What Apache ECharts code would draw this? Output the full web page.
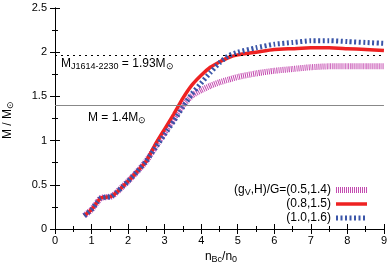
<!DOCTYPE html>
<html><head><meta charset="utf-8">
<script src="https://cdn.jsdelivr.net/npm/echarts@6/dist/echarts.min.js"></script>
<style>html,body{margin:0;padding:0;background:#fff}#c{width:390px;height:270px}</style>
</head><body><div id="c"></div>
<script>
const xVals = [0.8,1.0,1.15,1.25,1.4,1.55,1.7,1.85,2.0,2.25,2.5,2.75,3.0,3.25,3.5,3.75,4.0,4.25,4.5,4.75,5.0,5.5,6.0,6.5,7.0,7.5,8.0,8.5,9.0];
const pinkVals = [0.15,0.22,0.30,0.35,0.36,0.37,0.42,0.48,0.54,0.65,0.77,0.93,1.09,1.25,1.40,1.51,1.57,1.62,1.66,1.69,1.72,1.76,1.79,1.81,1.83,1.84,1.84,1.84,1.84];
const redVals  = [0.15,0.22,0.30,0.35,0.36,0.37,0.42,0.48,0.54,0.65,0.77,0.96,1.13,1.30,1.48,1.63,1.74,1.83,1.89,1.94,1.97,2.00,2.03,2.04,2.05,2.05,2.04,2.03,2.02];
const blueVals = [0.15,0.22,0.30,0.35,0.36,0.37,0.42,0.48,0.54,0.65,0.77,0.92,1.07,1.22,1.38,1.53,1.65,1.77,1.88,1.96,2.00,2.05,2.09,2.11,2.13,2.13,2.12,2.11,2.10];
const seriesNames = ['pink','red','blue'];
const legendLabels = ['(g{s|V},H)/G=(0.5,1.4)','(0.8,1.5)','(1.0,1.6)'];
const refLines = [1.97, 1.4];

const F = 'Liberation Sans, Arial, sans-serif';
const pair = (ys) => xVals.map((x,i)=>[x, ys[i]]);
const chart = echarts.init(document.getElementById('c'), null, {renderer:'canvas'});
const axBase = {
  axisLine:{show:true,lineStyle:{color:'#000',width:1}},
  axisTick:{show:true,inside:true,length:5,lineStyle:{color:'#000'}},
  minorTick:{show:true,splitNumber:2,length:3,lineStyle:{color:'#000'}},
  splitLine:{show:false}
};
const labelMap = {};
seriesNames.forEach((n,i)=>labelMap[n]=legendLabels[i]);
const sub = {fontFamily:F,fontSize:9,color:'#000',lineHeight:9,padding:[5,0,0,0]};
const main = {fontFamily:F,fontSize:12,color:'#000',lineHeight:14};
const styles = {
  pink:{color:'#c44bb0',width:6,type:[1,1]},
  red:{color:'#ee2222',width:3.5,type:'solid'},
  blue:{color:'#3a55a8',width:5,type:[2,2.5]}
};
chart.setOption({
  animation:false,
  grid:{left:55,right:5,top:8,bottom:41},
  xAxis:[
    Object.assign({type:'value',min:0,max:9,interval:1,position:'bottom',
      axisLabel:{color:'#000',fontFamily:F,fontSize:11,margin:6}},axBase),
    Object.assign({type:'value',min:0,max:9,interval:1,position:'top',axisLabel:{show:false}},axBase)
  ],
  yAxis:[
    Object.assign({type:'value',min:0,max:2.5,interval:0.5,position:'left',
      axisLabel:{color:'#000',fontFamily:F,fontSize:11,margin:8}},axBase),
    Object.assign({type:'value',min:0,max:2.5,interval:0.5,position:'right',axisLabel:{show:false}},axBase)
  ],
  legend:{
    orient:'vertical', right:20, top:183, padding:0, align:'right',
    itemWidth:31, itemHeight:6, itemGap:0,
    itemStyle:{color:'rgba(0,0,0,0)',borderWidth:0,opacity:0},
    data:seriesNames.map(n=>({name:n,lineStyle:Object.assign({},styles[n])})),
    formatter:(n)=>labelMap[n],
    textStyle:{fontFamily:F,fontSize:12,color:'#000',lineHeight:14,
      rich:{a:main,s:sub}}
  },
  series:[
    {name:'pink',type:'line',data:pair(pinkVals),smooth:0.2,showSymbol:false,symbol:'none',
      lineStyle:styles.pink,z:2,
      markLine:{silent:true,symbol:'none',label:{show:false},
        data:[{yAxis:refLines[0],lineStyle:{color:'#000',width:1,type:[2,4]}},
              {yAxis:refLines[1],lineStyle:{color:'#888',width:1.2,type:'solid'}}]}},
    {name:'red',type:'line',data:pair(redVals),smooth:0.2,showSymbol:false,symbol:'none',
      lineStyle:styles.red,z:3},
    {name:'blue',type:'line',data:pair(blueVals),smooth:0.2,showSymbol:false,symbol:'none',
      lineStyle:styles.blue,z:4}
  ],
  graphic:[
    {type:'text',left:61,top:57,style:{text:'{a|M}{s|J1614-2230}{a| = 1.93M}{s|⊙}',rich:{a:main,s:sub}}},
    {type:'text',left:88,top:111,style:{text:'{a|M = 1.4M}{s|⊙}',rich:{a:main,s:sub}}},
    {type:'text',x:8,y:120,rotation:Math.PI/2,style:{text:'{a|M / M}{s|⊙}',align:'center',verticalAlign:'middle',rich:{a:main,s:sub}}},
    {type:'text',x:221,y:257,style:{text:'{a|n}{s|Bc}{a|/n}{s|0}',align:'center',verticalAlign:'middle',rich:{a:main,s:sub}}}
  ]
});
</script></body></html>
